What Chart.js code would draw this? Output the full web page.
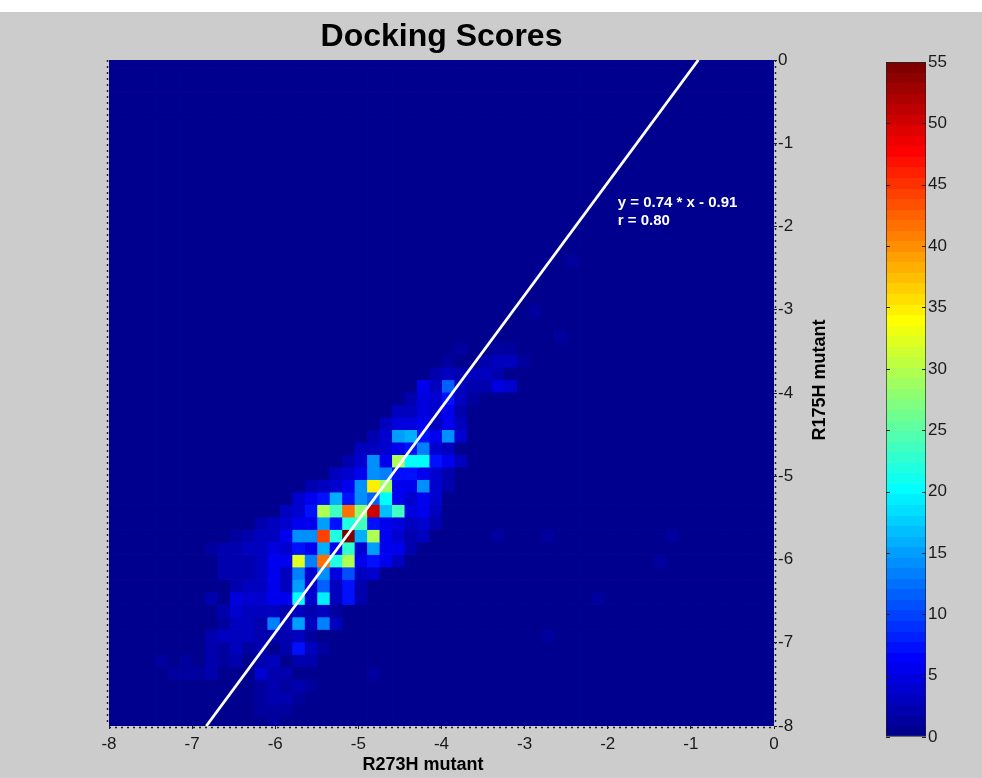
<!DOCTYPE html>
<html>
<head>
<meta charset="utf-8">
<script src="https://cdn.jsdelivr.net/npm/chart.js@4.4.1/dist/chart.umd.min.js"></script>
<style>
  html, body { margin: 0; padding: 0; }
  body { width: 982px; height: 778px; background: #cccccc; position: relative; overflow: hidden; }
  #topband { position: absolute; left: 0; top: 0; width: 982px; height: 12px; background: #ffffff; }
  #heat { position: absolute; left: 0; top: 0; }
  #colourbar { position: absolute; left: 870px; top: 0; }
</style>
</head>
<body>
<div id="topband"></div>
<canvas id="heat" width="982" height="778"></canvas>
<canvas id="colourbar" width="112" height="778"></canvas>
<script>
// bin centres of the 2D histogram (same bins on both axes)
const xBinCenters = [-7.965, -7.815, -7.665, -7.515, -7.365, -7.215, -7.065, -6.915, -6.765, -6.615,
  -6.465, -6.315, -6.165, -6.015, -5.865, -5.715, -5.565, -5.415, -5.265, -5.115,
  -4.965, -4.815, -4.665, -4.515, -4.365, -4.215, -4.065, -3.915, -3.765, -3.615,
  -3.465, -3.315, -3.165, -3.015, -2.865, -2.715, -2.565, -2.415, -2.265, -2.115,
  -1.965, -1.815, -1.665, -1.515, -1.365, -1.215, -1.065, -0.915, -0.765, -0.615,
  -0.465, -0.315, -0.165, -0.015];
const yBinCenters = [-7.965, -7.815, -7.665, -7.515, -7.365, -7.215, -7.065, -6.915, -6.765, -6.615,
  -6.465, -6.315, -6.165, -6.015, -5.865, -5.715, -5.565, -5.415, -5.265, -5.115,
  -4.965, -4.815, -4.665, -4.515, -4.365, -4.215, -4.065, -3.915, -3.765, -3.615,
  -3.465, -3.315, -3.165, -3.015, -2.865, -2.715, -2.565, -2.415, -2.265, -2.115,
  -1.965, -1.815, -1.665, -1.515, -1.365, -1.215, -1.065, -0.915, -0.765, -0.615,
  -0.465, -0.315, -0.165, -0.015];

// counts per y bin (row 0 = lowest), as [x bin index, count]; missing bins are 0
const binCounts = [
  [[13,1]],
  [[12,1],[13,1],[14,1]],
  [[12,1],[13,2],[14,2],[15,1]],
  [[12,1],[13,2],[14,1],[15,2],[16,1]],
  [[5,1],[6,1],[7,1],[8,2],[12,4],[13,2],[14,2],[21,1]],
  [[4,1],[6,1],[8,2],[9,1],[10,2],[12,2],[13,3],[15,2],[16,2]],
  [[8,2],[9,1],[10,3],[11,1],[12,2],[14,2],[15,7],[16,3],[17,1]],
  [[8,2],[9,3],[10,3],[11,3],[12,2],[13,2],[14,2],[15,3],[16,1],[35,1]],
  [[9,1],[10,3],[11,3],[12,2],[13,13],[14,3],[15,15],[16,3],[17,13],[18,3]],
  [[9,2],[10,4],[11,3],[12,3],[13,3],[14,2],[15,3],[16,2],[17,3],[18,1]],
  [[8,2],[10,5],[11,4],[12,4],[13,6],[14,6],[15,20],[16,4],[17,19],[18,3],[19,7],[20,2],[39,1]],
  [[10,2],[11,3],[12,3],[13,6],[14,3],[15,15],[16,4],[17,12],[18,3],[19,7],[20,2]],
  [[9,2],[10,2],[11,2],[12,3],[13,6],[14,3],[15,13],[16,4],[17,14],[18,5],[19,11],[20,3],[21,4]],
  [[9,2],[10,2],[11,2],[12,3],[13,6],[14,6],[15,32],[16,13],[17,42],[18,22],[19,30],[20,6],[21,7],[22,6],[23,3],[44,1]],
  [[8,1],[9,2],[10,2],[11,3],[12,3],[13,5],[14,4],[15,7],[16,6],[17,16],[18,6],[19,23],[20,4],[21,15],[22,6],[23,6],[24,2]],
  [[10,1],[11,2],[12,3],[13,3],[14,6],[15,14],[16,14],[17,44],[18,22],[19,55],[20,16],[21,30],[22,6],[23,4],[24,2],[25,3],[31,1],[35,1],[45,1]],
  [[12,2],[13,3],[14,4],[15,6],[16,6],[17,15],[18,7],[19,22],[20,24],[21,7],[22,6],[23,5],[24,3],[25,4],[26,2]],
  [[14,3],[15,4],[16,7],[17,30],[18,24],[19,42],[20,28],[21,50],[22,17],[23,24],[24,5],[25,6],[26,3]],
  [[15,4],[16,6],[17,7],[18,16],[19,7],[20,14],[21,12],[22,20],[23,6],[24,4],[25,6],[26,4]],
  [[16,2],[17,3],[18,4],[19,6],[20,14],[21,35],[22,29],[23,6],[24,6],[25,14],[26,4],[27,2]],
  [[18,3],[19,4],[20,6],[21,14],[22,13],[23,7],[24,7],[25,6],[26,4],[27,2]],
  [[19,2],[20,4],[21,14],[22,6],[23,30],[24,20],[25,20],[26,7],[27,6],[28,3]],
  [[20,3],[21,3],[22,4],[23,6],[24,7],[25,13],[26,4],[27,3]],
  [[21,2],[22,4],[23,15],[24,16],[25,7],[26,6],[27,14],[28,4]],
  [[22,3],[23,5],[24,5],[25,6],[26,3],[27,6],[28,3]],
  [[23,3],[24,3],[25,5],[26,4],[27,6],[28,2]],
  [[24,2],[25,5],[26,4],[27,7],[28,3],[29,1]],
  [[25,6],[26,3],[27,12],[28,3],[29,2],[30,2],[31,5],[32,4]],
  [[26,2],[27,3],[28,2],[29,3],[30,3],[31,2]],
  [[27,1],[30,2],[31,3],[32,3],[33,1]],
  [[28,1],[31,1],[32,1]],
  [[36,1]],
  [],
  [[34,1]],
  [],
  [],
  [],
  [[37,1]]
];

const xTickValues = [-8, -7, -6, -5, -4, -3, -2, -1, 0];
const yTickValues = [-8, -7, -6, -5, -4, -3, -2, -1, 0];
const colourTicks = [0, 5, 10, 15, 20, 25, 30, 35, 40, 45, 50, 55];

// fitted line as printed on the plot (drawn as x = slope * y + intercept)
const fitSlope = 0.74;
const fitIntercept = -0.91;
const fitR = 0.80;

const FONT = '"Liberation Sans", Arial, Helvetica, sans-serif';
Chart.defaults.font.family = FONT;
Chart.defaults.color = '#1a1a1a';

const cMin = colourTicks[0];
const cMax = colourTicks[colourTicks.length - 1];

// matlab jet(64)
function jetColour(k) {
  const u = j => j <= 16 ? j / 16 : (j <= 31 ? 1 : (48 - j) / 16);
  const r = k >= 25 ? u(k - 24) : 0;
  const g = (k >= 9 && k <= 55) ? u(k - 8) : 0;
  const b = k <= 39 ? u(k + 8) : 0;
  return 'rgb(' + Math.round(r * 255) + ',' + Math.round(g * 255) + ',' + Math.round(b * 255) + ')';
}
function colourFor(v) {
  let k = Math.floor((v - cMin) / (cMax - cMin) * 64) + 1;
  return jetColour(Math.min(64, Math.max(1, k)));
}

// full grid of cells
const cells = [];
yBinCenters.forEach(yc => {
  xBinCenters.forEach(xc => cells.push({x: xc, y: yc, v: 0}));
});
binCounts.forEach((row, r) => {
  row.forEach(([c, n]) => { cells[r * xBinCenters.length + c].v = n; });
});
const binWidth = xBinCenters[1] - xBinCenters[0];

const yMin = yTickValues[0], yMax = yTickValues[yTickValues.length - 1];
const fitLine = [
  {x: fitSlope * yMin + fitIntercept, y: yMin},
  {x: fitSlope * yMax + fitIntercept, y: yMax}
];

function cellRadius(ctx) {
  const s = ctx.chart.scales.x;
  const side = Math.abs(s.getPixelForValue(binWidth) - s.getPixelForValue(0)) + 0.8;
  return side / Math.SQRT2;
}

// titles, fit text and the dotted axis frame
const decorations = {
  id: 'decorations',
  afterDatasetsDraw(chart) {
    const {ctx, scales: {x, y}} = chart;
    ctx.save();
    ctx.fillStyle = '#ffffff';
    ctx.font = 'bold 15px ' + FONT;
    ctx.textAlign = 'left';
    ctx.textBaseline = 'middle';
    const tx = x.getPixelForValue(-1.88);
    const ty = y.getPixelForValue(-1.72);
    ctx.fillText('y = ' + fitSlope.toFixed(2) + ' * x - ' + Math.abs(fitIntercept).toFixed(2), tx, ty);
    ctx.fillText('r = ' + fitR.toFixed(2), tx, ty + 18);
    ctx.restore();
  },
  afterDraw(chart) {
    const {ctx, chartArea: a} = chart;
    ctx.save();
    ctx.strokeStyle = '#222';
    ctx.lineWidth = 1.5;
    ctx.setLineDash([2, 4]);
    ctx.beginPath();
    ctx.moveTo(a.left - 1.5, a.top); ctx.lineTo(a.left - 1.5, a.bottom);
    ctx.moveTo(a.left, a.bottom + 1.5); ctx.lineTo(a.right, a.bottom + 1.5);
    ctx.moveTo(a.right + 1.5, a.top); ctx.lineTo(a.right + 1.5, a.bottom);
    ctx.stroke();
    ctx.setLineDash([]);

    ctx.fillStyle = '#000';
    ctx.textAlign = 'center';
    ctx.textBaseline = 'middle';
    ctx.font = 'bold 32px ' + FONT;
    ctx.fillText('Docking Scores', (a.left + a.right) / 2, 37);
    ctx.font = 'bold 18px ' + FONT;
    ctx.fillText('R273H mutant', 423, 765);
    ctx.translate(820, 380);
    ctx.rotate(-Math.PI / 2);
    ctx.fillText('R175H mutant', 0, 0);
    ctx.restore();
  }
};

new Chart(document.getElementById('heat'), {
  type: 'scatter',
  data: {
    datasets: [
      {
        label: 'fit',
        type: 'line',
        data: fitLine,
        borderColor: '#ffffff',
        borderWidth: 2.8,
        pointRadius: 0,
        fill: false,
        order: 0,
        clip: 0
      },
      {
        label: 'counts',
        data: cells,
        pointStyle: 'rect',
        pointRadius: cellRadius,
        pointBorderWidth: 0,
        pointBackgroundColor: ctx => colourFor(ctx.raw ? ctx.raw.v : 0),
        order: 1,
        clip: 0
      }
    ]
  },
  options: {
    responsive: false,
    animation: false,
    events: [],
    layout: { padding: { left: 109, top: 60, right: 0, bottom: 0 } },
    plugins: { legend: { display: false }, tooltip: { enabled: false }, title: { display: false } },
    scales: {
      x: {
        type: 'linear',
        min: -8, max: 0,
        afterBuildTicks: s => { s.ticks = xTickValues.map(v => ({value: v})); },
        afterFit: s => { s.height = 52; },
        ticks: { font: { size: 17 }, padding: 5, maxRotation: 0, autoSkip: false },
        grid: { drawOnChartArea: false, drawTicks: true, tickLength: 3, color: '#222' },
        border: { display: false }
      },
      y: {
        type: 'linear',
        position: 'right',
        min: -8, max: 0,
        afterBuildTicks: s => { s.ticks = yTickValues.map(v => ({value: v})); },
        afterFit: s => { s.width = 208; },
        ticks: { font: { size: 17 }, padding: 1, autoSkip: false },
        grid: { drawOnChartArea: false, drawTicks: true, tickLength: 3, color: '#222' },
        border: { display: false }
      }
    }
  },
  plugins: [decorations]
});

// colour bar ticks on both inner edges
const barTicks = {
  id: 'barTicks',
  afterDatasetsDraw(chart) {
    const {ctx, chartArea: a, scales: {y}} = chart;
    ctx.save();
    ctx.strokeStyle = '#222';
    ctx.lineWidth = 1;
    ctx.beginPath();
    colourTicks.forEach(v => {
      const py = Math.round(y.getPixelForValue(v)) + 0.5;
      ctx.moveTo(a.left, py); ctx.lineTo(a.left + 4, py);
      ctx.moveTo(a.right - 4, py); ctx.lineTo(a.right, py);
    });
    ctx.stroke();
    ctx.restore();
  }
};

function barGradient(ctx) {
  const chart = ctx.chart;
  const a = chart.chartArea;
  if (!a) return colourFor(cMin);
  const g = chart.ctx.createLinearGradient(0, a.bottom, 0, a.top);
  for (let k = 1; k <= 64; k++) {
    g.addColorStop((k - 1) / 64, jetColour(k));
    g.addColorStop(k / 64, jetColour(k));
  }
  return g;
}

new Chart(document.getElementById('colourbar'), {
  type: 'bar',
  data: {
    labels: ['count'],
    datasets: [{
      data: [[cMin, cMax]],
      backgroundColor: barGradient,
      borderColor: '#222',
      borderWidth: 1,
      borderSkipped: false,
      barPercentage: 1,
      categoryPercentage: 1
    }]
  },
  options: {
    responsive: false,
    animation: false,
    events: [],
    layout: { padding: { left: 16, top: 62, right: 0, bottom: 41 } },
    plugins: { legend: { display: false }, tooltip: { enabled: false } },
    scales: {
      x: { display: false },
      y: {
        position: 'right',
        min: cMin, max: cMax,
        afterBuildTicks: s => { s.ticks = colourTicks.map(v => ({value: v})); },
        afterFit: s => { s.width = 56; },
        ticks: { font: { size: 17 }, padding: 2, autoSkip: false },
        grid: { drawOnChartArea: false, drawTicks: false },
        border: { display: false }
      }
    }
  },
  plugins: [barTicks]
});
</script>
</body>
</html>
